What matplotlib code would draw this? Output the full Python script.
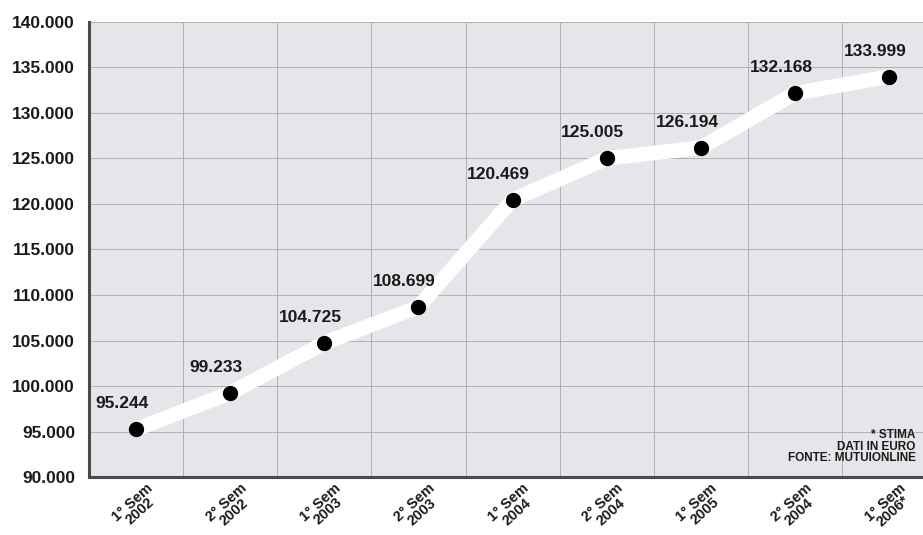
import numpy as np
import matplotlib
matplotlib.use('agg')
import matplotlib.pyplot as plt
import matplotlib.transforms as mtransforms
from matplotlib.ticker import FuncFormatter, MultipleLocator

# data (importo medio mutui, euro)
periods = ['1° Sem\n2002', '2° Sem\n2002', '1° Sem\n2003', '2° Sem\n2003', '1° Sem\n2004',
           '2° Sem\n2004', '1° Sem\n2005', '2° Sem\n2004', '1° Sem\n2006*']
values = [95244, 99233, 104725, 108699, 120469, 125005, 126194, 132168, 133999]
y_ticks = [90000, 95000, 100000, 105000, 110000, 115000, 120000, 125000, 130000, 135000, 140000]
note = '* STIMA\nDATI IN EURO\nFONTE: MUTUIONLINE'

def it_fmt(v, pos=None):
    return '{:,.0f}'.format(v).replace(',', '.')

fig = plt.figure(figsize=(9.23, 5.35), dpi=100)
ax = fig.add_axes([0.0964, 0.1084, 0.918, 0.8505])
ax.set_facecolor('#e6e5e9')

x = np.arange(len(values))
ax.plot(x, values, color='white', lw=10.5, solid_capstyle='round', solid_joinstyle='round', zorder=3)
ax.plot(x, values, 'o', color='black', ms=10, zorder=4)

for xi, v in zip(x, values):
    ax.annotate(it_fmt(v), (xi, v), xytext=(-10, 13), textcoords='offset points',
                ha='center', va='bottom', fontsize=12.5, fontweight='bold',
                family='Liberation Sans', color='#1a1a1a')

ax.set_xlim(-0.5, len(values) - 0.5)
ax.set_ylim(90000, 140000)
ax.set_yticks(y_ticks)
ax.yaxis.set_major_formatter(FuncFormatter(it_fmt))
ax.set_xticks(x)
ax.set_xticklabels(periods, rotation=42, ha='center', va='top', fontsize=10.5,
                   fontweight='bold', family=['Liberation Sans Narrow', 'Liberation Sans'],
                   linespacing=0.8, color='#1a1a1a')
shift = mtransforms.ScaledTranslation(-12 / 100, 2 / 100, fig.dpi_scale_trans)
for lab in ax.get_xticklabels():
    lab.set_transform(lab.get_transform() + shift)
ax.xaxis.set_minor_locator(MultipleLocator(1, offset=0.5))
for lab in ax.get_yticklabels():
    lab.set_fontsize(12.5)
    lab.set_fontweight('bold')
    lab.set_family('Liberation Sans')
    lab.set_color('#1a1a1a')

ax.tick_params(axis='both', which='both', length=0)
ax.tick_params(axis='y', pad=10)
ax.tick_params(axis='x', pad=3)
ax.grid(axis='y', which='major', color='#b1b0b5', lw=0.7)
ax.grid(axis='x', which='minor', color='#b1b0b5', lw=0.7)
ax.set_axisbelow(True)

for s in ['top', 'right']:
    ax.spines[s].set_visible(False)
ax.spines['left'].set_color('#4a4a4a')
ax.spines['left'].set_linewidth(2.2)
ax.spines['bottom'].set_color('#4a4a4a')
ax.spines['bottom'].set_linewidth(2.2)

fig.text(0.992, 0.132, note, ha='right', va='bottom', fontsize=8.5, fontweight='bold',
         family=['Liberation Sans Narrow', 'Liberation Sans'], linespacing=0.95, color='#1a1a1a')

fig.savefig('out.png', dpi=100, facecolor='white')
